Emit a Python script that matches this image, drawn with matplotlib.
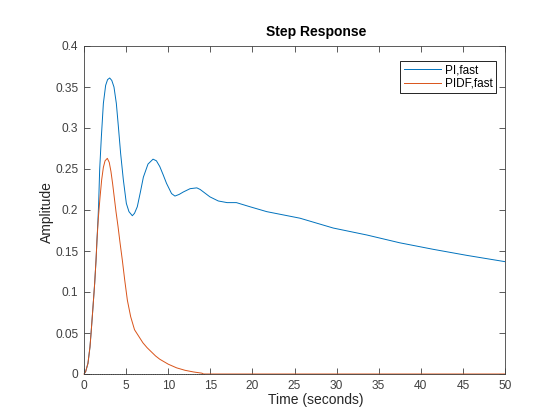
import numpy as np
import matplotlib
matplotlib.use("Agg")
import matplotlib.pyplot as plt
from matplotlib.ticker import MultipleLocator, FormatStrFormatter

plt.rcParams['font.family'] = ['Liberation Sans', 'DejaVu Sans']

# PI,fast
t_pi = [0, 0.2, 0.47, 0.71, 0.87, 1.07, 1.27, 1.43, 1.54, 1.66, 1.74, 1.86,
        2.06, 2.3, 2.57, 2.8, 3.05, 3.3, 3.56, 3.84, 4.08, 4.35, 4.67, 5.03,
        5.34, 5.74, 6.0, 6.33, 6.7, 7.05, 7.6, 8.2, 8.6, 9.0, 9.4, 9.8, 10.4,
        10.8, 11.3, 11.8, 12.6, 13.4, 13.8, 14.96, 15.95, 17.0, 18.1, 19.7,
        21.7, 25.65, 29.6, 33.6, 37.5, 41.5, 45.45, 50]
y_pi = [0, 0.003, 0.013, 0.033, 0.054, 0.082, 0.111, 0.139, 0.163, 0.188,
        0.208, 0.249, 0.289, 0.330, 0.352, 0.359, 0.361, 0.358, 0.350, 0.330,
        0.302, 0.269, 0.237, 0.208, 0.198, 0.193, 0.196, 0.204, 0.222, 0.240,
        0.256, 0.262, 0.260, 0.253, 0.243, 0.2325, 0.220, 0.217, 0.219, 0.222,
        0.226, 0.227, 0.225, 0.216, 0.211, 0.209, 0.209, 0.204, 0.198, 0.190,
        0.178, 0.1695, 0.160, 0.152, 0.1447, 0.137]

# PIDF,fast
t_pidf = [0, 0.2, 0.47, 0.71, 0.87, 1.07, 1.27, 1.43, 1.54, 1.7, 1.9, 2.1,
          2.3, 2.5, 2.77, 3.0, 3.2, 3.4, 3.6, 3.8, 4.04, 4.28, 4.55, 4.83,
          5.15, 5.54, 6.0, 6.5, 7.0, 7.5, 8.0, 8.5, 9.0, 10.0, 11.0, 12.0,
          13.0, 14.0, 14.2, 50]
y_pidf = [0, 0.003, 0.013, 0.033, 0.054, 0.082, 0.111, 0.139, 0.163, 0.19,
          0.215, 0.237, 0.252, 0.26, 0.263, 0.258, 0.247, 0.232, 0.215, 0.198,
          0.18, 0.16, 0.139, 0.115, 0.090, 0.070, 0.054, 0.046, 0.038, 0.032,
          0.027, 0.022, 0.018, 0.012, 0.0075, 0.0045, 0.0025, 0.001, 0, 0]

# linha de regime (pontilhada)
t_regime = [0, 14.2]
y_regime = [0, 0]

cor_eixo = '#404040'

fig = plt.figure(figsize=(5.6, 4.2), dpi=100)
ax = fig.add_axes([84/560, 46/420, 421/560, 328/420])

ax.plot(t_pi, y_pi, color='#0072BD', lw=0.7, label='PI,fast')
ax.plot(t_pidf, y_pidf, color='#D95319', lw=0.7, label='PIDF,fast', clip_on=False)
ax.plot(t_regime, y_regime, color='black', lw=0.6, ls=':', clip_on=False)

ax.set_xlim(0, 50)
ax.set_ylim(0, 0.4)
ax.xaxis.set_major_locator(MultipleLocator(5))
ax.yaxis.set_major_locator(MultipleLocator(0.05))
ax.yaxis.set_major_formatter(FormatStrFormatter('%g'))
ax.tick_params(direction='in', top=True, right=True, length=4, width=0.6,
               labelsize=8.6, colors=cor_eixo, pad=4)
for s in ax.spines.values():
    s.set_color(cor_eixo)
    s.set_linewidth(0.6)

leg = ax.legend(loc='upper right', bbox_to_anchor=(0.979, 0.954),
                borderaxespad=0, fancybox=False, edgecolor='black',
                framealpha=1, fontsize=8.5, handlelength=3.2,
                handletextpad=0.3, labelspacing=0.1, borderpad=0.3)
leg.get_frame().set_linewidth(0.6)

fig.text(316/560, 1 - 32/420, 'Step Response', ha='center', va='center',
         fontsize=10, fontweight='bold')
fig.text(316/560, 1 - 400/420, 'Time (seconds)', ha='center', va='center',
         fontsize=10, color='#262626')
fig.text(47/560, 1 - 212/420, 'Amplitude', ha='center', va='center',
         rotation=90, fontsize=10, color='#262626')

fig.savefig('out.png', dpi=100)
plt.close(fig)
